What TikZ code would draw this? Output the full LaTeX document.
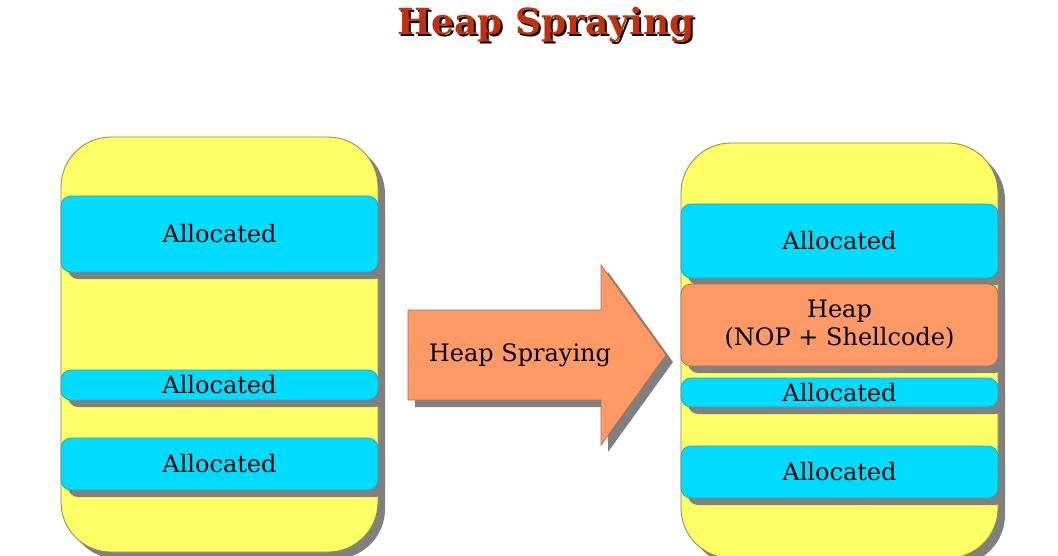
\documentclass[tikz,border=0pt]{standalone}
\usepackage{fontspec}
\setmainfont{DejaVu Serif}
\usepackage{tikz}
\usetikzlibrary{shadows}
\definecolor{heapyellow}{HTML}{FFFF66}
\definecolor{heapline}{HTML}{8A8A4A}
\definecolor{alloccyan}{HTML}{00DCFF}
\definecolor{allocline}{HTML}{2AA8B8}
\definecolor{sprayorange}{HTML}{FF9966}
\definecolor{sprayline}{HTML}{B07050}
\definecolor{titlered}{HTML}{C0320C}
\definecolor{shadowgray}{HTML}{808080}
\newcommand{\shadowed}[2]{\makebox[0pt][l]{\hspace{2pt}\raisebox{-2pt}{\color{black}#2}}\textcolor{#1}{#2}}
\tikzset{
    dropgray/.style = {drop shadow={shadow xshift=7pt,shadow yshift=-7pt,fill=shadowgray,opacity=1}},
    heap/.style = {draw=heapline,line width=0.8pt,fill=heapyellow,rounded corners=50pt,minimum width=317pt,minimum height=415pt,inner sep=0,dropgray},
    alloc/.style = {draw=allocline,line width=0.8pt,fill=alloccyan,rounded corners=10pt,minimum width=317pt,inner sep=0,font=\fontsize{24}{28}\selectfont,dropgray},
    spray/.style = {alloc,draw=sprayline,fill=sprayorange,align=center},
    sprayarrow/.style = {draw=sprayline,line width=0.8pt,fill=sprayorange,dropgray},
    title/.style = {font=\bfseries\fontsize{36}{40}\selectfont,anchor=base}
}
\begin{document}
\begin{tikzpicture}[x=1pt,y=-1pt]
        \useasboundingbox (0,0) rectangle (1058,555);
        % Title
        \node[title] (title) at (546,34) {\shadowed{titlered}{Heap Spraying}};
        % Heaps
        \node[heap] (heapL) at (219.5,344.5) {};
        \node[heap] (heapR) at (839.5,350.5) {};
        % Blocks before
        \foreach \name/\y/\h in {allocL1/234/76,allocL2/385/30,allocL3/464/52}
            \node[alloc,minimum height=\h pt] (\name) at (219.5,\y) {Allocated};
        % Blocks after
        \foreach \name/\y/\h in {allocR1/241/74,allocR2/392.5/29,allocR3/472/52}
            \node[alloc,minimum height=\h pt] (\name) at (839.5,\y) {Allocated};
        \node[spray,minimum height=82pt] (sprayR) at (839.5,325) {Heap\\(NOP + Shellcode)};
        % Arrow
        \path[sprayarrow] (408,310) -- (601,310) -- (601,265) -- (666,355)
            -- (601,445) -- (601,400) -- (408,400) -- cycle;
        \node[font=\fontsize{24}{28}\selectfont] (spraytext) at (520,355) {Heap Spraying};
    \end{tikzpicture}
\end{document}
